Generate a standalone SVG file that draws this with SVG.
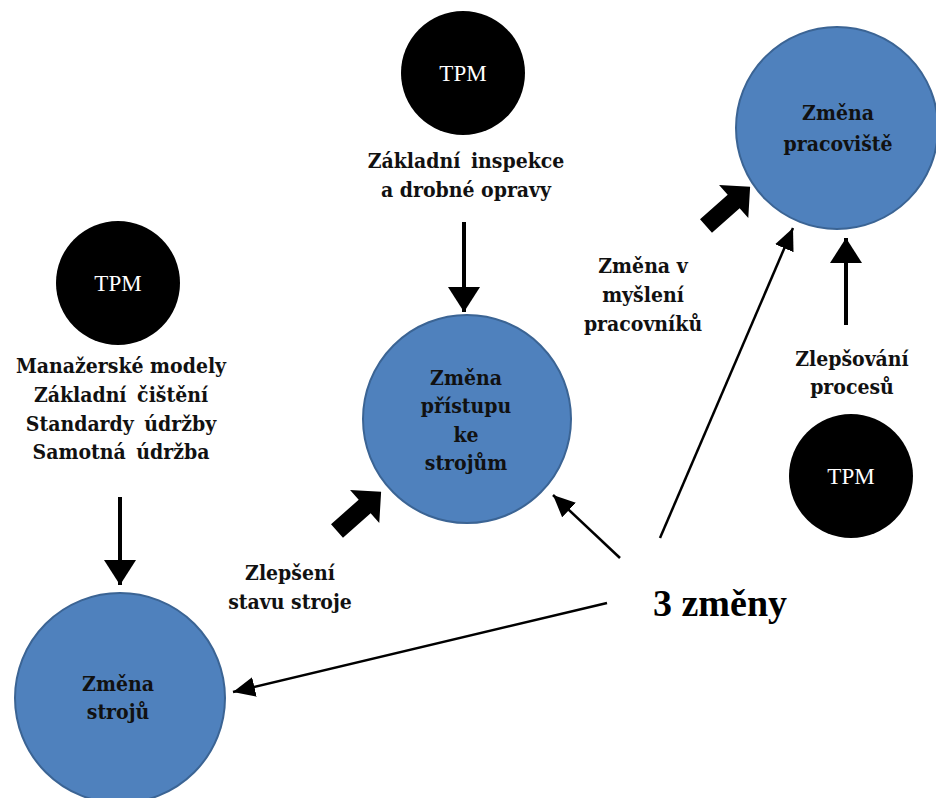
<svg xmlns="http://www.w3.org/2000/svg" width="936" height="798" viewBox="0 0 936 798">
  <defs>
    <style>
      .blue { fill: #4F81BD; stroke: #3B6494; stroke-width: 2; }
      .tpm { fill: #000; }
      .tpm-label { font-family: "Liberation Serif", "Times New Roman", serif; font-size: 23px; fill: #fff; text-anchor: middle; }
      .lbl { font-family: "DejaVu Serif", serif; font-stretch: condensed; font-weight: bold; font-size: 21px; fill: #111; text-anchor: middle; }
      .big { font-family: "Liberation Serif", "Times New Roman", serif; font-weight: bold; font-size: 38px; fill: #000; }
      .thin { stroke: #000; stroke-width: 2.5; fill: none; marker-end: url(#head); }
      .thick { stroke: #000; stroke-width: 4; fill: none; marker-end: url(#headBig); }
      .block { fill: #000; }
    </style>
    <marker id="head" markerUnits="userSpaceOnUse" markerWidth="24" markerHeight="22" refX="22" refY="10" orient="auto">
      <path d="M0,0 L22,10 L0,20 Z" fill="#000"/>
    </marker>
    <marker id="headBig" markerUnits="userSpaceOnUse" markerWidth="28" markerHeight="34" refX="25" refY="16" orient="auto">
      <path d="M0,0 L25,16 L0,32 Z" fill="#000"/>
    </marker>
    <path id="blockArrow" d="M0,-9 L37,-9 L37,-22 L59,0 L37,22 L37,9 L0,9 Z"/>
  </defs>

  <rect width="936" height="798" fill="#fff"/>

  <!-- connectors -->
  <g id="connectors">
    <line class="thick" x1="464" y1="222" x2="464" y2="312"/>
    <line class="thick" x1="120" y1="497" x2="120" y2="585"/>
    <line class="thin" x1="607" y1="603" x2="233" y2="692"/>
    <line class="thin" x1="620" y1="558" x2="553" y2="495"/>
    <line class="thin" x1="660" y1="538" x2="793" y2="228"/>
    <line class="thick" x1="846" y1="325" x2="846" y2="238"/>
    <use href="#blockArrow" class="block" transform="translate(706,226) rotate(-41.6)"/>
    <use href="#blockArrow" class="block" transform="translate(337,531) rotate(-41.6)"/>
  </g>

  <!-- TPM sources -->
  <g id="tpm-top">
    <circle class="tpm" cx="463" cy="73" r="62"/>
    <text class="tpm-label" x="463" y="81">TPM</text>
  </g>
  <g id="tpm-left">
    <circle class="tpm" cx="118" cy="283" r="62"/>
    <text class="tpm-label" x="118" y="291">TPM</text>
  </g>
  <g id="tpm-right">
    <circle class="tpm" cx="851" cy="476" r="62"/>
    <text class="tpm-label" x="851" y="484">TPM</text>
  </g>

  <!-- TPM pillar labels -->
  <g id="label-top">
    <text class="lbl" x="466" y="168" word-spacing="4">Základní inspekce</text>
    <text class="lbl" x="466" y="197">a drobné opravy</text>
  </g>
  <g id="label-left">
    <text class="lbl" x="121" y="373">Manažerské modely</text>
    <text class="lbl" x="121" y="402" word-spacing="4">Základní čištění</text>
    <text class="lbl" x="121" y="431" word-spacing="4">Standardy údržby</text>
    <text class="lbl" x="121" y="459" word-spacing="4">Samotná údržba</text>
  </g>
  <g id="label-right">
    <text class="lbl" x="852" y="366">Zlepšování</text>
    <text class="lbl" x="852" y="394">procesů</text>
  </g>

  <!-- change targets -->
  <g id="zmena-pristupu">
    <circle class="blue" cx="467" cy="419" r="104"/>
    <text class="lbl" x="466" y="385">Změna</text>
    <text class="lbl" x="466" y="413">přístupu</text>
    <text class="lbl" x="466" y="442">ke</text>
    <text class="lbl" x="466" y="470">strojům</text>
  </g>
  <g id="zmena-pracoviste">
    <circle class="blue" cx="837" cy="128" r="101"/>
    <text class="lbl" x="838" y="120">Změna</text>
    <text class="lbl" x="838" y="151">pracoviště</text>
  </g>
  <g id="zmena-stroju">
    <circle class="blue" cx="120" cy="698" r="105"/>
    <text class="lbl" x="118" y="691">Změna</text>
    <text class="lbl" x="118" y="719">strojů</text>
  </g>

  <!-- arrow labels -->
  <g id="label-zlepseni">
    <text class="lbl" x="290" y="580">Zlepšení</text>
    <text class="lbl" x="290" y="609">stavu stroje</text>
  </g>
  <g id="label-mysleni">
    <text class="lbl" x="643" y="273">Změna v</text>
    <text class="lbl" x="643" y="302">myšlení</text>
    <text class="lbl" x="643" y="331">pracovníků</text>
  </g>

  <!-- central label -->
  <g id="tri-zmeny">
    <text class="big" x="653" y="616">3 změny</text>
  </g>
</svg>
